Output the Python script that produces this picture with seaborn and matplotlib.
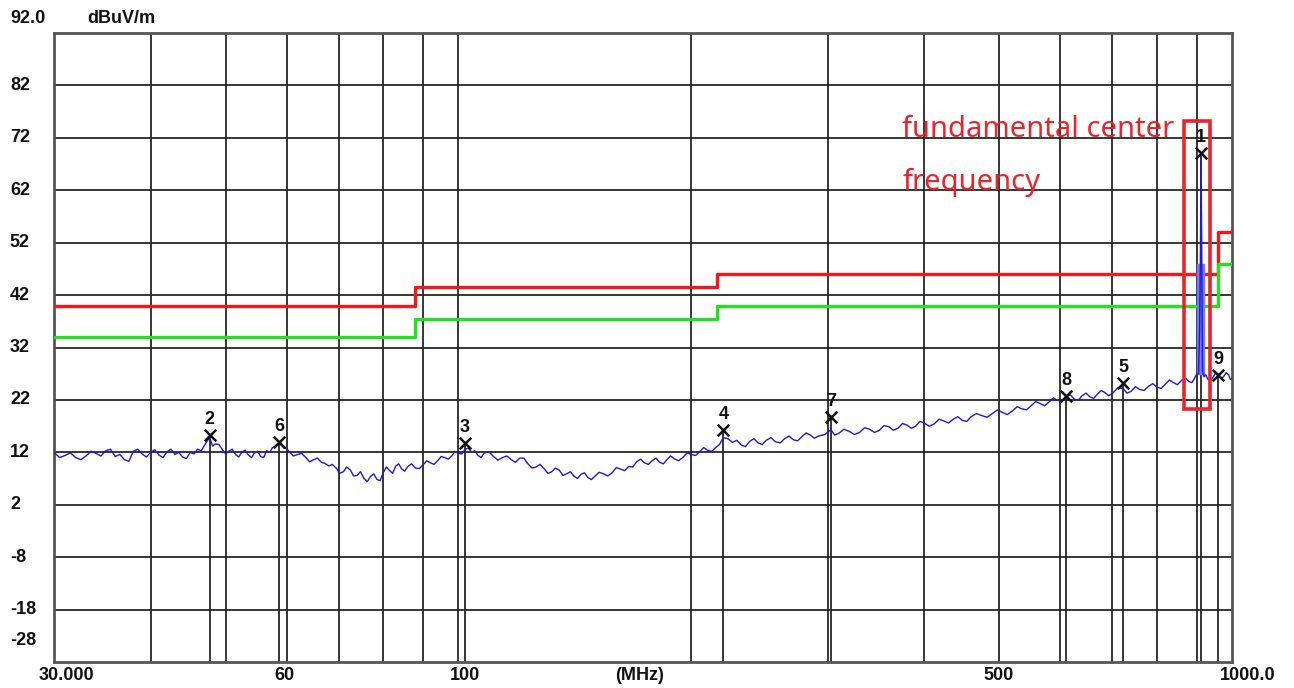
import numpy as np
import pandas as pd
import seaborn as sns
import matplotlib.pyplot as plt
from matplotlib.patches import Rectangle
from matplotlib.ticker import NullLocator

# spectrum trace (MHz, dBuV/m)
trace_freq = [30, 31, 32, 33, 34, 35, 36, 37, 38, 39, 40, 41, 42, 43, 44, 45, 46, 47, 47.7, 48.5,
              49.5, 50.5, 51.5, 52.5, 53.5, 54.5, 55.5, 56.5, 57.5, 58.6, 59.5, 60.5,
              62, 63.5, 65, 66.5, 68, 69.5, 71, 72.5, 74, 75.5, 77, 78.5, 80, 81.5, 83, 84.5, 86,
              88, 90, 92, 94, 96, 98, 100, 102,
              104, 106, 108, 111, 114, 117, 120, 123, 126, 129, 132, 135, 138, 141, 144, 147, 150,
              154, 158, 162, 166, 170, 174, 178, 182, 186, 190, 195, 200, 205, 210, 215, 220,
              226, 232, 238, 244, 250, 257, 264, 271, 278, 285, 292, 303, 310, 320, 330, 340,
              350, 360, 370, 380, 390, 400, 412, 424, 436, 448, 460, 475, 490, 505, 520, 535,
              550, 565, 580, 595, 610, 625, 640, 655, 670, 685, 700, 723, 740, 760, 780, 800,
              820, 840, 860, 880, 895, 905, 908, 910, 912, 914, 916, 920, 930, 945, 960, 975,
              990, 1000]
trace_level = [12.0, 11.4, 11.0, 11.3, 11.8, 12.3, 11.2, 10.6, 12.2, 11.7, 12.0, 11.5, 12.1, 11.6,
               11.1, 12.0, 12.6, 13.4, 14.8, 13.6,
               12.6, 12.2, 11.6, 12.1, 11.5, 11.9, 11.2, 12.3, 12.9, 13.8, 12.8, 12.0,
               11.6, 11.0, 10.6, 10.1, 9.4, 9.0, 8.3, 8.6, 7.6, 7.0, 7.4, 6.8, 8.2, 8.5, 9.4, 8.8,
               9.3, 9.0, 9.6, 10.0, 10.4, 11.0, 11.3, 11.8, 12.6,
               12.0, 11.4, 11.9, 11.2, 11.0, 10.6, 10.9, 9.8, 9.2, 8.9, 8.3, 8.6, 7.9, 7.5, 7.8,
               7.2, 7.4, 7.9, 8.1, 8.8, 9.3, 10.2, 10.0, 10.4, 10.1, 10.6, 10.8, 11.0, 11.6, 12.1,
               12.4, 12.9, 14.8,
               13.9, 13.4, 14.1, 13.8, 14.3, 14.0, 14.6, 14.4, 15.0, 15.3, 15.1, 16.3, 15.6, 16.0,
               15.8, 16.4, 16.2, 16.9, 16.6, 17.2, 17.0, 17.6, 17.4, 18.0, 18.3, 18.1, 18.8, 19.0,
               19.4, 19.6, 19.9, 20.3, 20.9, 21.3, 21.6, 21.9, 22.6, 22.2, 22.8, 22.6, 23.1, 23.4,
               23.2, 24.2, 23.6, 24.0, 24.6, 24.4, 25.0, 25.3, 25.7, 25.5, 26.2, 27.0, 35.0, 48.0,
               69.1, 48.0, 27.5, 26.4, 26.0, 26.3, 26.9, 26.4, 26.8, 26.1]

# in-between samples of the same trace (the noisy ripple)
ripple_freq = [30.5, 31.5, 32.5, 33.5, 34.5, 35.5, 36.5, 37.5, 38.5, 39.5, 40.5, 41.5, 42.5, 43.5,
               44.5, 45.5, 46.5, 47.35, 48.1, 49, 50, 51, 52, 53, 54, 55, 56, 57, 58, 59, 60,
               61.2, 62.7, 64.2, 65.7, 67.2, 68.7, 70.2, 71.7, 73.2, 74.7, 76.2, 77.7, 79.2, 80.7,
               82.2, 83.7, 85.2, 87, 89, 91, 93, 95, 97, 99, 101, 103, 105, 107, 109.5, 112.5,
               115.5, 118.5, 121.5, 124.5, 127.5, 130.5, 133.5, 136.5, 139.5, 142.5, 145.5, 148.5,
               152, 156, 160, 164, 168, 172, 176, 180, 184, 188, 192.5, 197.5, 202.5, 207.5,
               212.5, 217.5, 223, 229, 235, 241, 247, 253.5, 260.5, 267.5, 274.5, 281.5, 288.5,
               297.5, 306.5, 315, 325, 335, 345, 355, 365, 375, 385, 395, 406, 418, 430, 442, 454,
               467.5, 482.5, 497.5, 512.5, 527.5, 542.5, 557.5, 572.5, 587.5, 602.5, 617.5, 632.5,
               647.5, 662.5, 677.5, 692.5, 711.5, 731.5, 750, 770, 790, 810, 830, 850, 870, 887.5,
               900, 925, 937.5, 952.5, 967.5, 982.5, 995]
ripple_level = [11.0, 11.9, 10.6, 12.2, 11.3, 12.6, 11.6, 10.3, 12.6, 11.1, 12.5, 11.0, 12.6, 12.0,
                10.8, 11.7, 12.3, 14.2, 13.2, 13.5, 11.7, 12.6, 11.1, 12.4, 11.0, 12.2, 11.0, 12.0,
                13.2, 13.4, 12.7,
                11.3, 11.8, 10.2, 10.9, 9.9, 9.7, 8.0, 9.2, 7.5, 8.3, 6.4, 7.9, 6.6, 9.2,
                8.0, 9.8, 8.4, 9.8, 8.9, 10.4, 9.7, 11.2, 10.7, 12.2, 11.7, 12.8, 12.3, 11.0, 12.1,
                10.5, 11.3, 10.1, 10.9, 9.0, 9.7, 8.0, 9.0, 7.6, 8.3, 7.0, 8.1, 6.8,
                8.2, 7.5, 9.1, 8.5, 9.2, 10.7, 9.7, 10.9, 9.8, 11.3, 10.4, 11.9, 11.4, 12.9,
                12.2, 13.5, 14.6, 14.3, 13.1, 14.6, 13.5, 14.8, 13.8, 15.1, 14.2, 15.7, 14.7,
                15.4, 15.3, 16.4, 15.4, 16.7, 15.8, 17.1, 16.2, 17.5, 16.6, 17.9, 17.0, 18.3, 17.6,
                18.8, 17.9,
                19.4, 18.7, 20.1, 19.2, 20.7, 20.1, 21.7, 20.9, 22.4, 21.8, 23.0, 21.9,
                23.3, 22.3, 23.8, 22.8, 24.3, 23.3, 24.5, 23.8, 25.1, 24.2, 25.8, 24.9, 26.2, 25.3,
                26.9, 26.8, 25.6, 27.2, 26.1, 27.2, 25.9]

# limit lines
limit_freq = [30, 88, 216, 960, 1000]
limit_red = [40, 43.5, 46, 54, 54]
limit_green = [34, 37.5, 40, 48, 48]

# markers
marker_id = [1, 2, 3, 4, 5, 6, 7, 8, 9]
marker_freq = [912, 47.7, 102, 220, 723, 58.6, 303, 610, 960]
marker_level = [69.1, 15.3, 13.8, 16.2, 25.2, 13.9, 18.7, 22.7, 26.7]

grid_freq = [40, 50, 60, 70, 80, 90, 100, 200, 300, 400, 500, 600, 700, 800, 900]
grid_level = [82, 72, 62, 52, 42, 32, 22, 12, 2, -8, -18]

sns.set_theme(style='white')
plt.rcParams['font.family'] = ['Liberation Sans', 'DejaVu Sans']

fig = plt.figure(figsize=(12.94, 6.88), dpi=100)
ax = fig.add_axes([0.0417, 0.0378, 0.9104, 0.9142])
ax.set_xscale('log')
ax.set_xlim(30, 1000)
ax.set_ylim(-28, 92)

ax.set_xticks(grid_freq)
ax.set_yticks(grid_level)
ax.xaxis.set_minor_locator(NullLocator())
ax.tick_params(length=0, labelbottom=False, labelleft=False)
ax.grid(True, color='#262626', lw=1.3)
for s in ax.spines.values():
    s.set_color('#555555')
    s.set_linewidth(2)

# marker drop lines
ax.vlines(marker_freq, -28, marker_level, color='#262626', lw=1.3, zorder=2)

# limits
lim = pd.DataFrame({'freq': limit_freq, 'red': limit_red, 'green': limit_green})
sns.lineplot(data=lim, x='freq', y='red', color='#f01818', lw=2.4, drawstyle='steps-post',
             estimator=None, sort=False, ax=ax, zorder=3)
sns.lineplot(data=lim, x='freq', y='green', color='#22e022', lw=2.4, drawstyle='steps-post',
             estimator=None, sort=False, ax=ax, zorder=3)

# spike band under the fundamental
ax.fill_betweenx([27, 48], 900, 921, color='#7878f0', zorder=3)

tr = pd.concat([pd.DataFrame({'freq': trace_freq, 'level': trace_level}),
                pd.DataFrame({'freq': ripple_freq, 'level': ripple_level})])
tr = tr.sort_values('freq')
sns.lineplot(data=tr, x='freq', y='level', color='#1a1ad8', lw=1.0,
             estimator=None, sort=False, ax=ax, zorder=4)

mk = pd.DataFrame({'freq': marker_freq, 'level': marker_level})
sns.scatterplot(data=mk, x='freq', y='level', marker='x', s=70, color='#111111',
                linewidth=1.8, ax=ax, zorder=5)
for n, f, v in zip(marker_id, marker_freq, marker_level):
    ax.annotate(str(n), (f, v), xytext=(0, 5), textcoords='offset points',
                ha='center', va='bottom', fontsize=13, fontweight='bold', color='#111111')

ax.set_xlabel('')
ax.set_ylabel('')

# axis texts
tk = dict(fontsize=13, fontweight='bold', color='#111111')
yt = ax.get_yaxis_transform()
for v in grid_level:
    ax.text(-0.0374, v, str(v), transform=yt, ha='left', va='center', **tk)
ax.text(-0.0374, 1.0238, '92.0', transform=ax.transAxes, ha='left', va='center', **tk)
ax.text(-0.0374, 0.0334, '-28', transform=ax.transAxes, ha='left', va='center', **tk)
ax.text(0.028, 1.0238, 'dBuV/m', transform=ax.transAxes, ha='left', va='center', **tk)
for xf, lab in [(0.011, '30.000'), (0.196, '60'), (0.349, '100'), (0.4975, '(MHz)'),
                (0.802, '500'), (1.0136, '1000.0')]:
    ax.text(xf, -0.0207, lab, transform=ax.transAxes, ha='center', va='center', **tk)

# annotation
ax.add_patch(Rectangle((867, 20.2), 936.6 - 867, 75.2 - 20.2, fill=False,
                       edgecolor='#e8242c', lw=2.6, zorder=6))
ax.text(374.6, 72.2, 'fundamental center', color='#e8242c', fontsize=21,
        family=['Noto Sans', 'DejaVu Sans'], ha='left', va='baseline', zorder=6)
ax.text(374.6, 62.0, 'frequency', color='#e8242c', fontsize=21,
        family=['Noto Sans', 'DejaVu Sans'], ha='left', va='baseline', zorder=6)

fig.savefig('out.png', dpi=100)
